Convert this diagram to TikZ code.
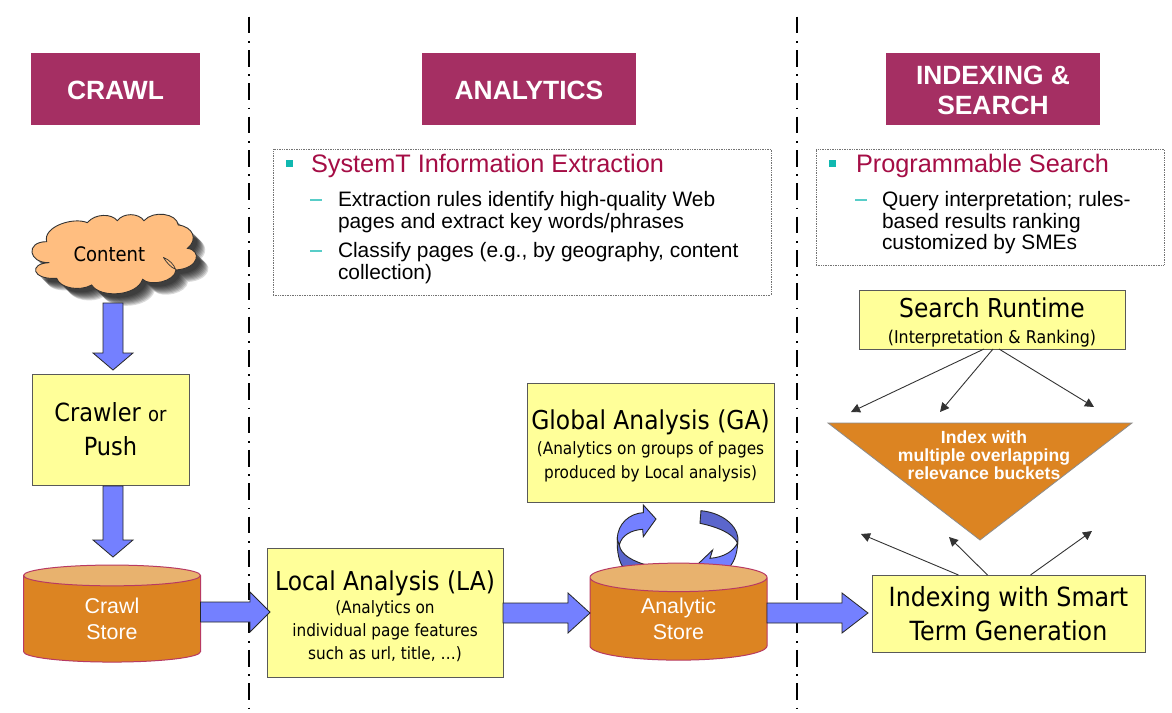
\documentclass[tikz,border=0pt]{standalone}
\usepackage{fontspec}
\setmainfont{Liberation Sans}
\newfontfamily\tah{DejaVu Sans}[FakeStretch=0.9]
\usetikzlibrary{calc,shapes.geometric,arrows.meta}
\definecolor{hdr}{HTML}{A52F63}
\definecolor{ttl}{HTML}{A50D45}
\definecolor{teal1}{HTML}{10B8B0}
\definecolor{yel}{HTML}{FFFF99}
\definecolor{org}{HTML}{DC8422}
\definecolor{orgtop}{HTML}{E8B26E}
\definecolor{crim}{HTML}{B83A62}
\definecolor{blu}{HTML}{7480FF}
\definecolor{bludk}{HTML}{5B66CC}
\definecolor{cloudc}{HTML}{FFBE80}
\newcommand{\fs}[2]{\fontsize{#1}{#2}\selectfont}
\newcommand{\topst}[1]{\rule{0pt}{#1pt}}
\newcommand{\blockarr}[3]{%
  \coordinate (ba) at #1; \coordinate (bb) at #2;
  \coordinate (bt) at ($(bb)!#3pt!(ba)$);
  \draw[blockarrow] ($(ba)!10pt!90:(bb)$) -- ($(bt)!10pt!90:(bb)$) -- ($(bt)!20pt!90:(bb)$) -- (bb)
    -- ($(bt)!20pt!-90:(bb)$) -- ($(bt)!10pt!-90:(bb)$) -- ($(ba)!10pt!-90:(bb)$) -- cycle;}
\newcommand{\cloudpath}{(140,185) .. controls (128,140) and (220,110) .. (262,128)
  .. controls (285,100) and (335,100) .. (352,122)
  .. controls (370,98) and (415,98) .. (432,122)
  .. controls (460,90) and (530,100) .. (535,135)
  .. controls (580,140) and (595,180) .. (562,205)
  .. controls (605,210) and (600,265) .. (528,270)
  .. controls (525,305) and (450,320) .. (428,298)
  .. controls (410,350) and (300,355) .. (275,315)
  .. controls (240,335) and (180,325) .. (170,295)
  .. controls (95,300) and (85,250) .. (148,248)
  .. controls (85,250) and (75,185) .. (140,185) -- cycle}
\tikzset{
  every node/.style={inner sep=0pt,outer sep=0pt},
  header/.style={fill=hdr,text=white,font=\bfseries\fs{26.4}{30},align=center,minimum height=72pt},
  ybox/.style={draw=black!65,line width=1pt,fill=yel,align=center},
  store/.style={cylinder,shape border rotate=90,aspect=0.38,draw=crim,line width=1pt,
    cylinder uses custom fill,cylinder body fill=org,cylinder end fill=orgtop,
    minimum width=177pt,minimum height=97pt,text=white,font=\fs{21.4}{26},align=center},
  blockarrow/.style={draw=black!85,line width=0.8pt,fill=blu,line join=miter},
  thin arrow/.style={draw=black!80,line width=0.9pt,-{Triangle[length=9pt,width=9pt]}},
  divider/.style={black,line width=1.8pt,dash pattern=on 16.7pt off 7.5pt on 1.7pt off 7.43pt},
  infobox/.style={draw=black!55,line width=0.7pt,densely dotted},
  infohead/.style={text=ttl,font=\fs{25.3}{29},anchor=base west},
  infotext/.style={anchor=north west,align=left,font=\fs{20.9}{21.5}},
  bulletsq/.style={fill=teal1},
  dashmark/.style={draw=teal1!70,line width=2pt},
}
\begin{document}
\begin{tikzpicture}[x=1pt,y=-1pt]
\useasboundingbox (0,0) rectangle (1172,712);
\fill[white] (0,0) rectangle (1172,712);
% dividers
\coordinate (d1a) at (249,16.7); \coordinate (d1b) at (249,712);
\coordinate (d2a) at (797,16.7); \coordinate (d2b) at (797,712);
\draw[divider] (d1a) -- (d1b);
\draw[divider] (d2a) -- (d2b);
% headers
\node[header,minimum width=169pt] (h1) at (115.5,89) {\topst{22}CRAWL};
\node[header,minimum width=214pt] (h2) at (529,89) {\topst{22}ANALYTICS};
\node[header,minimum width=214pt] (h3) at (993,89) {\topst{22}INDEXING \&\\SEARCH};
% info boxes
\node[infobox,minimum width=498pt,minimum height=146pt] (ib1) at (522,222) {};
\fill[bulletsq] (286,160) rectangle (293,167);
\node[infohead] (t1) at (311,172) {SystemT Information Extraction};
\draw[dashmark] (310,200) -- (322,200);
\node[infotext] (t1a) at (338,191.5) {Extraction rules identify high-quality Web\\pages and extract key words/phrases};
\draw[dashmark] (310,251) -- (322,251);
\node[infotext] (t1b) at (338,242.5) {Classify pages (e.g., by geography, content\\collection)};
\node[infobox,minimum width=348pt,minimum height=116pt] (ib2) at (990,207) {};
\fill[bulletsq] (829,160) rectangle (836,167);
\node[infohead] (t2) at (856,172) {Programmable Search};
\draw[dashmark] (855,200) -- (867,200);
\node[infotext] (t2a) at (882,191.5) {Query interpretation; rules-\\based results ranking\\customized by SMEs};
% cloud
\begin{scope}[shift={(0,180)},x=0.3333pt,y=-0.3333pt]
  \foreach \d in {36,33,30,27,24,21,18,15,12}{
    \fill[black,opacity=0.14,shift={(\d pt/3,-\d pt/3)}] \cloudpath;}
  \draw[draw=black!80,line width=0.9pt,fill=cloudc] \cloudpath;
  \draw[draw=black!80,line width=0.7pt,fill=cloudc] (490,232) .. controls (510,240) and (522,255) .. (527,268) .. controls (512,262) and (500,248) .. (490,232);
  \node[font=\tah\fs{20}{24}] (cloud) at (328,222) {Content};
\end{scope}
% yellow boxes
\node[ybox,font=\tah\fs{25}{34},minimum width=157pt,minimum height=111pt] (crawler) at (110.5,429.5) {Crawler {\fs{20}{34}or}\\Push};
\node[ybox,font=\tah\fs{17}{24.5},minimum width=247pt,minimum height=119pt] (ga) at (650.5,442.5) {\fs{26}{24.5}\topst{27}Global Analysis (GA)\\(Analytics on groups of pages\\produced by Local analysis)};
\node[ybox,font=\tah\fs{17}{23},minimum width=236pt,minimum height=129pt] (la) at (385,612.5) {\fs{26}{23}\topst{28}Local Analysis (LA)\\(Analytics on\\individual page features\\such as url, title, \dots)};
\node[ybox,font=\tah\fs{17.6}{26},minimum width=266pt,minimum height=59pt] (sr) at (992,319.5) {\fs{26}{26}\topst{26}Search Runtime\\(Interpretation \& Ranking)};
\node[ybox,font=\tah\fs{26.4}{34},minimum width=273pt,minimum height=77pt] (ix) at (1008.5,613.5) {Indexing with Smart\\Term Generation};
% triangle
\coordinate (ta) at (828,423); \coordinate (tb) at (1132,423); \coordinate (tc) at (980,540);
\draw[draw=black!45,line width=0.8pt,fill=org] (ta) -- (tb) -- (tc) -- cycle;
\node[text=white,font=\bfseries\fs{17.6}{18.2},align=center] (tt) at (984,455) {Index with\\multiple overlapping\\relevance buckets};
% circular arrows (behind the store)
\begin{scope}[shift={(500,480)},x=0.3333pt,y=-0.3333pt,line width=0.9pt,draw=black!85]
  \draw[fill=bludk] (352,178) .. controls (350,215) and (358,250) .. (372,265) -- (450,258) .. controls (400,245) and (362,225) .. (358,195) -- cycle;
  \draw[fill=blu] (358,195) .. controls (365,165) and (395,150) .. (428,148) -- (430,170) -- (468,117) -- (430,75) -- (430,98) .. controls (390,100) and (352,130) .. (352,178) -- cycle;
  \draw[fill=bludk] (603,92) -- (600,130) .. controls (650,140) and (700,160) .. (713,190) .. controls (722,150) and (680,100) .. (603,92) -- cycle;
  \draw[fill=blu] (713,188) .. controls (712,225) and (700,250) .. (685,265) -- (600,265) -- (593,253) -- (638,210) -- (630,235) .. controls (670,232) and (700,215) .. (713,188) -- cycle;
\end{scope}
% stores
\node[store] (cs) at (112,619) {Crawl\\Store};
\node[store] (as) at (678.5,619) {Analytic\\Store};
% block arrows
\blockarr{(113,303)}{([xshift=2.5pt,yshift=4pt]crawler.north)}{17}
\blockarr{(113,486)}{(113,557)}{17}
\blockarr{(cs.east |- 0,612)}{(270,612)}{20}
\blockarr{(la.east |- 0,613)}{(as.west |- 0,613)}{22}
\blockarr{(as.east |- 0,613)}{([xshift=-4pt]ix.west |- 0,613)}{26}
% thin arrows
\coordinate (s1) at (851,412); \coordinate (s2) at (940,412); \coordinate (s3) at (1094,407);
\draw[thin arrow] ([xshift=-8pt]sr.south) -- (s1);
\draw[thin arrow] ([xshift=1pt]sr.south) -- (s2);
\draw[thin arrow] ([xshift=7pt]sr.south) -- (s3);
\coordinate (i1) at (861,534); \coordinate (i2) at (949,537); \coordinate (i3) at (1092,531);
\draw[thin arrow] ([xshift=-50pt]ix.north) -- (i1);
\draw[thin arrow] ([xshift=-21pt]ix.north) -- (i2);
\draw[thin arrow] ([xshift=22pt]ix.north) -- (i3);
\end{tikzpicture}
\end{document}
